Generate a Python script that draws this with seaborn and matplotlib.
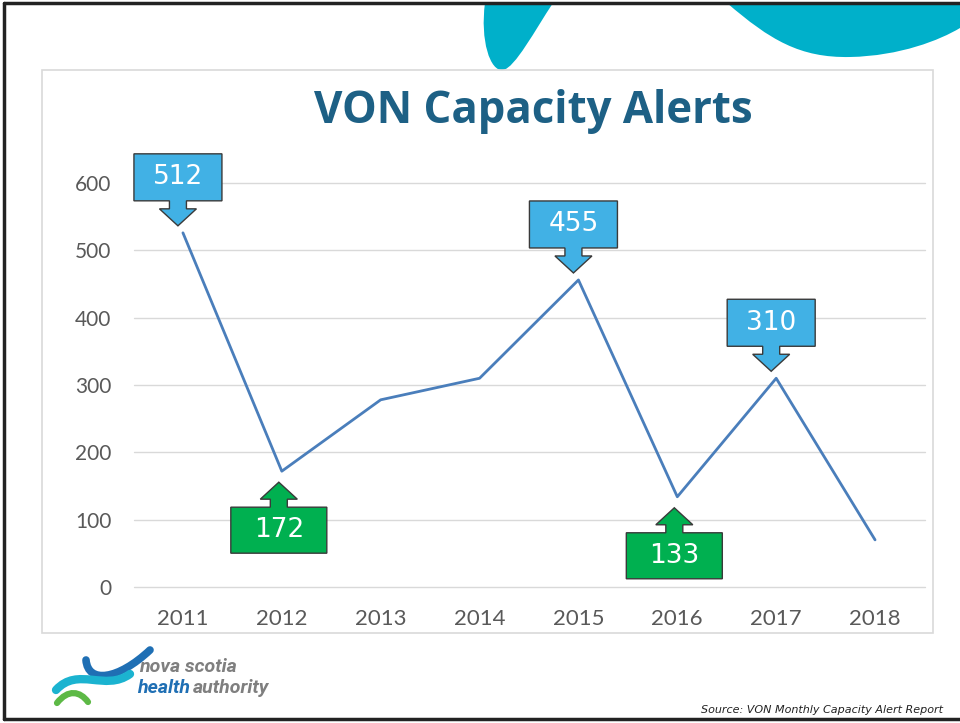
import numpy as np
import pandas as pd
import matplotlib
matplotlib.use("Agg")
import matplotlib.pyplot as plt
import matplotlib.transforms as mtransforms
from matplotlib.patches import Polygon, Rectangle, PathPatch
from matplotlib.path import Path
import seaborn as sns

# data
years = ["2011", "2012", "2013", "2014", "2015", "2016", "2017", "2018"]
alerts = [526, 172, 278, 310, 456, 134, 310, 70]

# callouts: year -> (label, direction)
callout_years = ["2011", "2012", "2015", "2016", "2017"]
callout_labels = ["512", "172", "455", "133", "310"]
callout_dirs = ["down", "up", "down", "up", "down"]

y_ticks = [0, 100, 200, 300, 400, 500, 600]

df = pd.DataFrame({"year": years, "alerts": alerts})

sns.set_theme(style="white")
plt.rcParams["font.family"] = ["Lato", "DejaVu Sans"]

W, H = 960, 723
fig = plt.figure(figsize=(W / 100, H / 100), dpi=100)
fig.patch.set_facecolor("white")

def fx(px):
    return px / W

def fy(py):
    return 1 - py / H

# slide decorations (pixel coords of the slide, not data)
teal = "#00B0CA"
def slide_path(verts, codes, **kw):
    v = [(fx(a), fy(b)) for a, b in verts]
    p = PathPatch(Path(v, codes), transform=fig.transFigure, **kw)
    fig.patches.append(p)

C4 = Path.CURVE4
slide_path([(485, 3), (480, 40), (490, 72), (503, 70), (515, 68), (535, 30), (553, 3), (485, 3)],
           [Path.MOVETO, C4, C4, C4, C4, C4, C4, Path.CLOSEPOLY], facecolor=teal, edgecolor="none")
slide_path([(727, 3), (770, 40), (800, 58), (850, 57), (900, 56), (940, 40), (960, 28), (960, 3), (727, 3)],
           [Path.MOVETO, C4, C4, C4, C4, C4, C4, Path.LINETO, Path.CLOSEPOLY], facecolor=teal, edgecolor="none")

# chart frame
fig.patches.append(Rectangle((fx(42), fy(633)), fx(933) - fx(42), fy(70) - fy(633),
                             transform=fig.transFigure, facecolor="none", edgecolor="#D9D9D9", lw=1.2))

# slide border (left, top, bottom)
for xs, ys in [([4, 4], [3, 719]), ([4, 960], [3, 3]), ([4, 960], [719, 719])]:
    fig.add_artist(plt.Line2D([fx(x) for x in xs], [fy(y) for y in ys], transform=fig.transFigure,
                              color="#222222", lw=2.5))

ax = fig.add_axes([fx(133.5), fy(587), fx(924.5) - fx(133.5), fy(183) - fy(587)])
ax.set_facecolor("none")
sns.lineplot(data=df, x="year", y="alerts", ax=ax, color="#4A7EBB", lw=2.0, sort=False, zorder=3)
ax.set_xlim(-0.5, len(years) - 0.5)
ax.set_ylim(0, 600)
ax.set_yticks(y_ticks)
for yt in y_ticks:
    ax.axhline(yt, color="#D9D9D9", lw=1, zorder=0, clip_on=False)
for s in ax.spines.values():
    s.set_visible(False)
ax.set_xlabel("")
ax.set_ylabel("")
ax.tick_params(axis="x", length=0, pad=16, labelsize=16, labelcolor="#595959")
ax.tick_params(axis="y", length=0, pad=16, labelsize=15, labelcolor="#595959")

fig.text(fx(533), fy(112), "VON Capacity Alerts", ha="center", va="center",
         fontsize=31.5, fontweight="bold", color="#1D6085", family=["Open Sans", "DejaVu Sans"])

# callouts, shapes in pixels relative to the data point
def callout(xi, yv, label, direction):
    trans = fig.dpi_scale_trans + mtransforms.ScaledTranslation(xi, yv, ax.transData)
    if direction == "down":
        s, gap, bw, bh, col, dx = 1, 7, 88, 47, "#41B1E5", -5
    else:
        s, gap, bw, bh, col, dx = -1, 11, 96, 46, "#00B050", -3
    t = gap
    pts = [(0, t), (-18.5, t + 17), (-8.5, t + 17), (-8.5, t + 25), (-bw / 2, t + 25),
           (-bw / 2, t + 25 + bh), (bw / 2, t + 25 + bh), (bw / 2, t + 25), (8.5, t + 25),
           (8.5, t + 17), (18.5, t + 17)]
    pts = [((px + dx) / 100, s * py / 100) for px, py in pts]
    ax.add_patch(Polygon(pts, closed=True, transform=trans, facecolor=col,
                         edgecolor="#3A3A3A", lw=1, clip_on=False, zorder=5))
    ax.text(dx / 100, s * (t + 25 + bh / 2) / 100, label, transform=trans, ha="center", va="center",
            fontsize=19, color="white", family="DejaVu Sans", zorder=6)

for yr, lab, d in zip(callout_years, callout_labels, callout_dirs):
    i = years.index(yr)
    callout(i, alerts[i], lab, d)

# logo
def swoosh(verts, color, lw):
    v = [(fx(a), fy(b)) for a, b in verts]
    codes = [Path.MOVETO] + [C4] * (len(v) - 1)
    fig.patches.append(PathPatch(Path(v, codes), transform=fig.transFigure, facecolor="none",
                                 edgecolor=color, lw=lw, capstyle="round"))

swoosh([(86, 660), (88, 684), (118, 680), (150, 650)], "#1F6FB4", 5.5)
swoosh([(56, 690), (78, 666), (105, 692), (130, 674)], "#1BB3D0", 6)
swoosh([(57, 703), (68, 689), (80, 691), (88, 702)], "#5DB946", 4.5)
logo_font = dict(fontsize=14, style="italic", fontweight="bold", va="baseline",
                 family=["Roboto", "DejaVu Sans"])
fig.text(fx(139), fy(672), "nova scotia", color="#7F7F7F", **logo_font)
t_h = fig.text(fx(137), fy(693), "health", color="#1F6FB4", **logo_font)
r = fig.canvas.get_renderer()
bb = t_h.get_window_extent(renderer=r)
fig.text((bb.x1 + 3) / W, fy(693), "authority", color="#7F7F7F", **logo_font)

fig.text(fx(943), fy(710), "Source: VON Monthly Capacity Alert Report", ha="right", va="center",
         fontsize=8, style="italic", color="#222222", family="DejaVu Sans")

fig.savefig("out.png", dpi=100)
